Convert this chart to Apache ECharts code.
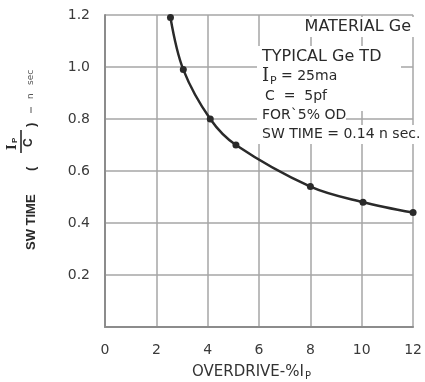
<!DOCTYPE html>
<html>
<head>
<meta charset="utf-8">
<script src="https://cdn.jsdelivr.net/npm/echarts@6/dist/echarts.min.js"></script>
<style>
  html, body { margin: 0; padding: 0; background: #fff; }
  #chart { width: 425px; height: 382px; }
</style>
</head>
<body>
<div id="chart"></div>
<script>
// Switching time vs. overdrive for a typical Ge tunnel diode
const overdrive = [2.55, 3.05, 4.1, 5.1, 8.0, 10.05, 12.0];   // % of Ip
const swTime    = [1.19, 0.99, 0.80, 0.70, 0.54, 0.48, 0.44]; // (Ip/C) - n sec
const xTicks = [0, 2, 4, 6, 8, 10, 12];
const yTicks = [0, 0.2, 0.4, 0.6, 0.8, 1.0, 1.2];

const ink = '#2a2a2a';
const gridGray = '#a6a6a6';
const labelFont = 'DejaVu Sans';

// width of a string in a given font, for placing subscripts
const measureCtx = document.createElement('canvas').getContext('2d');
const textWidth = (s, font) => { measureCtx.font = font; return measureCtx.measureText(s).width; };

const chart = echarts.init(document.getElementById('chart'), null, { renderer: 'canvas' });

const txt = (text, x, y, size, styleExtra) => ({
  type: 'text', x: x, y: y, z: 3,
  style: Object.assign({
    text: text, fill: ink, font: size + 'px "' + labelFont + '"',
    textAlign: 'left', textVerticalAlign: 'middle'
  }, styleExtra || {})
});

const whiteRect = (x1, y1, x2, y2) => ({
  type: 'rect', z: 1, silent: true,
  shape: { x: x1, y: y1, width: x2 - x1, height: y2 - y1 },
  style: { fill: '#fff' }
});

// x-axis title with subscript
const xTitleFont = '15px "' + labelFont + '"';
const xTitleMain = 'OVERDRIVE-%I';
const xTitleLeft = 192;
const xTitleMainW = textWidth(xTitleMain, xTitleFont);

const option = {
  backgroundColor: '#fff',
  animation: false,
  grid: { left: 105, right: 10, top: 15, bottom: 55 },
  xAxis: {
    type: 'value', min: xTicks[0], max: xTicks[xTicks.length - 1], interval: 2,
    axisLine: { show: true, lineStyle: { color: '#8c8c8c', width: 2 } },
    axisTick: { show: false },
    splitLine: { show: true, lineStyle: { color: gridGray, width: 1.5 } },
    axisLabel: {
      margin: 16, color: '#3a3a3a', fontSize: 14, fontFamily: labelFont,
      formatter: v => xTicks.indexOf(v) >= 0 ? String(v) : ''
    }
  },
  yAxis: {
    type: 'value', min: yTicks[0], max: yTicks[yTicks.length - 1], interval: 0.2,
    axisLine: { show: true, lineStyle: { color: '#8c8c8c', width: 2 } },
    axisTick: { show: false },
    splitLine: { show: true, lineStyle: { color: gridGray, width: 1.5 } },
    axisLabel: {
      margin: 15, color: '#3a3a3a', fontSize: 14, fontFamily: labelFont,
      formatter: v => v === 0 ? '' : v.toFixed(1)
    }
  },
  series: [{
    type: 'line',
    data: overdrive.map((x, i) => [x, swTime[i]]),
    smooth: 0.35,
    z: 2,
    symbol: 'circle', symbolSize: 7,
    itemStyle: { color: ink },
    lineStyle: { color: ink, width: 2.5 }
  }],
  graphic: [
    // plain backing behind the annotation block
    whiteRect(286, 17, 416, 37),
    whiteRect(257, 46, 401, 88),
    whiteRect(257, 86, 411, 111),
    whiteRect(257, 108, 346, 126),
    whiteRect(257, 125, 425, 144),

    txt('MATERIAL Ge', 411, 27, 16, { textAlign: 'right' }),
    txt('TYPICAL Ge TD', 262, 57, 16),
    txt('I', 262, 76, 18, { font: '18px "DejaVu Serif"' }),
    txt('P', 270, 81, 11),
    txt('= 25ma', 281, 76, 14),
    txt('C  =  5pf', 265, 96, 14),
    txt('FOR`5% OD', 262, 115, 14),
    txt('SW TIME = 0.14 n sec.', 262, 134, 14),

    // x-axis title
    txt(xTitleMain, xTitleLeft, 372, 15, { font: xTitleFont, fill: '#333' }),
    txt('P', xTitleLeft + xTitleMainW + 1, 376, 10, { fill: '#333' }),

    // y-axis title, reads bottom to top
    {
      type: 'group', x: 31, y: 250, rotation: Math.PI / 2,
      children: [
        { type: 'text', x: 0, y: 0, z: 3,
          style: { text: 'SW TIME', fill: ink, font: 'bold 13px "Liberation Sans"', textVerticalAlign: 'middle' } },
        { type: 'text', x: 79, y: 0, z: 3,
          style: { text: '(', fill: ink, font: 'bold 13px "Liberation Sans"', textVerticalAlign: 'middle' } },
        { type: 'text', x: 100, y: -18, z: 3,
          style: { text: 'I', fill: ink, font: 'bold 12px "DejaVu Serif"', textVerticalAlign: 'middle' } },
        { type: 'text', x: 107, y: -16, z: 3,
          style: { text: 'P', fill: ink, font: 'bold 8px "Liberation Sans"', textVerticalAlign: 'middle' } },
        { type: 'line', z: 3, shape: { x1: 97, y1: -10, x2: 120, y2: -10 },
          style: { stroke: ink, lineWidth: 1.6 } },
        { type: 'text', x: 103, y: -2, z: 3,
          style: { text: 'C', fill: ink, font: 'bold 12px "Liberation Sans"', textVerticalAlign: 'middle' } },
        { type: 'text', x: 123, y: 0, z: 3,
          style: { text: ')', fill: ink, font: 'bold 13px "Liberation Sans"', textVerticalAlign: 'middle' } },
        { type: 'line', z: 3, shape: { x1: 137, y1: 0, x2: 143, y2: 0 },
          style: { stroke: '#555', lineWidth: 1 } },
        { type: 'text', x: 151, y: 0, z: 3,
          style: { text: 'n', fill: '#555', font: '9px "DejaVu Sans"', textVerticalAlign: 'middle' } },
        { type: 'text', x: 165, y: 0, z: 3,
          style: { text: 'sec', fill: '#555', font: '9px "DejaVu Sans"', textVerticalAlign: 'middle' } }
      ]
    }
  ]
};

chart.setOption(option);
</script>
</body>
</html>
